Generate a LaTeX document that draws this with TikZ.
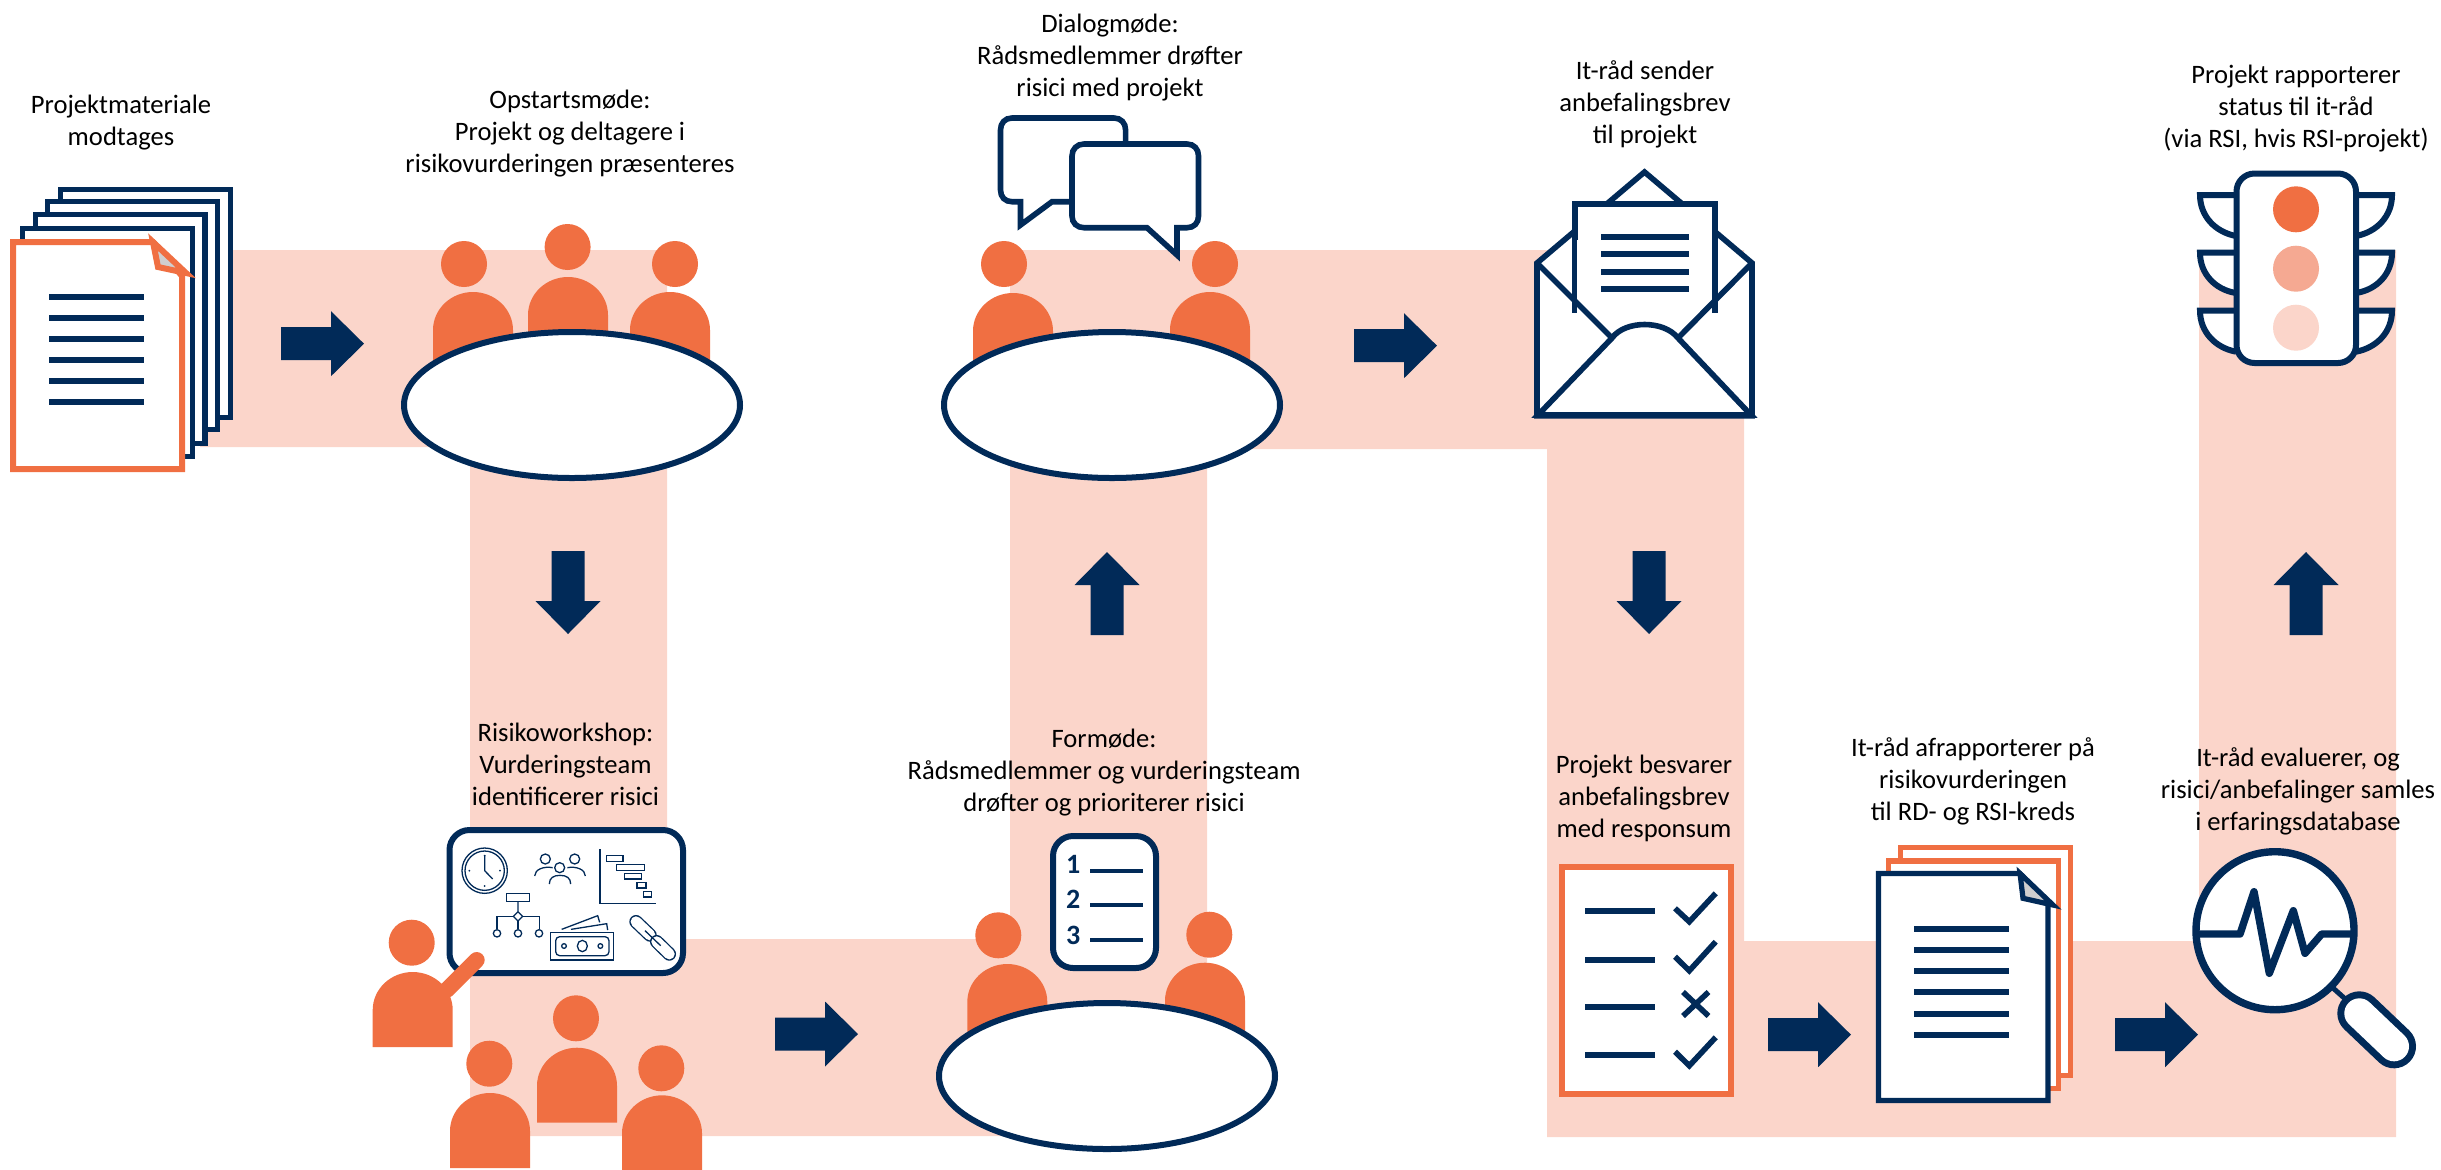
\documentclass[tikz,border=0pt]{standalone}
\usepackage{fontspec}
\setmainfont{Carlito}
\definecolor{navy}{HTML}{012A58}
\definecolor{orng}{HTML}{F06F42}
\definecolor{band}{HTML}{FBD5CA}
\definecolor{midor}{HTML}{F5A992}
\definecolor{foldg}{HTML}{D0CECE}
\tikzset{
  lbl/.style={align=center,font=\fontsize{13.3}{16}\selectfont,text=black,inner sep=0pt},
  sheet/.style={draw=#1,fill=white,line width=2.6pt},
  thin icon/.style={draw=navy,line width=0.65pt},
}
\newcommand{\pbody}[2]{\fill[orng] (#1-40,#2+75) -- (#1-40,#2+38) .. controls (#1-40,#2+17) and (#1-22,#2) .. (#1,#2) .. controls (#1+22,#2) and (#1+40,#2+17) .. (#1+40,#2+38) -- (#1+40,#2+75) -- cycle;}
\newcommand{\phead}[2]{\fill[orng] (#1,#2) circle[radius=23];}
\newcommand{\Rarr}[2]{\fill[navy] (#1,#2-16.5) -- (#1+50,#2-16.5) -- (#1+50,#2-32.5) -- (#1+83,#2) -- (#1+50,#2+32.5) -- (#1+50,#2+16.5) -- (#1,#2+16.5) -- cycle;}
\newcommand{\Darr}[2]{\fill[navy] (#1-16.5,#2) -- (#1-16.5,#2+50) -- (#1-32.5,#2+50) -- (#1,#2+83) -- (#1+32.5,#2+50) -- (#1+16.5,#2+50) -- (#1+16.5,#2) -- cycle;}
\newcommand{\Uarr}[2]{\fill[navy] (#1-16.5,#2) -- (#1-16.5,#2-50) -- (#1-32.5,#2-50) -- (#1,#2-83) -- (#1+32.5,#2-50) -- (#1+16.5,#2-50) -- (#1+16.5,#2) -- cycle;}
\newcommand{\sheetbox}[5]{\filldraw[sheet=#5] (#1+2.6,#2+2.6) rectangle (#3-2.6,#4-2.6);}
\newcommand{\barline}[3]{\fill[navy] (#1,#3-3) rectangle (#2,#3+3);}
\begin{document}
\begin{tikzpicture}[x=0.5pt,y=-0.5pt]
\useasboundingbox (0,0) rectangle (2441,1169);
% band
\fill[band] (200,250) -- (667,250) -- (667,939) -- (1010,939) -- (1010,250) -- (1744,250) -- (1744,941) -- (2199,941) -- (2199,250) -- (2396,250) -- (2396,1137) -- (1547,1137) -- (1547,449) -- (1207,449) -- (1207,1136) -- (470,1136) -- (470,447) -- (200,447) -- cycle;
% document stack 1
\sheetbox{58}{187}{233}{420}{navy}
\sheetbox{45}{199}{220}{432}{navy}
\sheetbox{32.5}{212}{207.5}{446}{navy}
\sheetbox{20}{226}{195}{459}{navy}
\filldraw[draw=orng,fill=white,line width=3pt,line join=miter] (13,242) -- (153,242) -- (182,276) -- (182,469) -- (13,469) -- cycle;
\filldraw[draw=orng,fill=foldg,line width=3pt,line join=miter] (153,242) -- (186,273) -- (158,267) -- cycle;
\foreach \yy in {296.7,317.7,339,360,381,402} {\barline{48.5}{144}{\yy}}
\Rarr{281}{343.7}
% opstart
\phead{464}{264}\phead{567.6}{247}\phead{675}{264}
\pbody{473}{292}\pbody{568}{277}\pbody{670}{292}
\filldraw[draw=navy,fill=white,line width=3pt] (572,405) ellipse[x radius=168,y radius=73];
\Darr{568}{551}
% presenter
\filldraw[draw=navy,fill=white,line width=3pt,rounded corners=10pt] (449.5,830) rectangle (683,973);
\begin{scope}[shift={(340,800)},x=0.16667pt,y=-0.16667pt]
 % clock
 \draw[thin icon] (434,212) circle[radius=68];
 \draw[thin icon] (434,212) circle[radius=59];
 \draw[thin icon] (434,165) -- (434,212) -- (458,237);
 \foreach \pp in {(434,167),(434,258),(388,212),(480,212)} {\fill[navy] \pp circle[radius=3];}
 % people
 \draw[thin icon] (616,177) circle[radius=15];
 \draw[thin icon] (704,177) circle[radius=15];
 \draw[thin icon] (659,203) circle[radius=15];
 \draw[thin icon] (584,228) .. controls (584,208) and (612,198) .. (638,203);
 \draw[thin icon] (736,228) .. controls (736,208) and (708,198) .. (682,203);
 \draw[thin icon] (628,252) .. controls (628,234) and (640,226) .. (660,226) .. controls (680,226) and (692,234) .. (692,252);
 % gantt
 \draw[thin icon] (780,148) -- (780,310) -- (947,310);
 \draw[thin icon] (799,167) rectangle (849,184);
 \draw[thin icon] (829,194) rectangle (913,211);
 \draw[thin icon] (854,220) rectangle (905,237);
 \draw[thin icon] (891,247) rectangle (918,264);
 \draw[thin icon] (911,274) rectangle (935,291);
 % org chart
 \draw[thin icon] (499,280) rectangle (569,305);
 \draw[thin icon] (534,305) -- (534,335) -- (548,349) -- (534,363) -- (520,349) -- (534,335);
 \draw[thin icon] (520,349) -- (471,349) -- (471,388);
 \draw[thin icon] (548,349) -- (598,349) -- (598,388);
 \draw[thin icon] (534,363) -- (534,388);
 \draw[thin icon] (471,400) circle[radius=11];
 \draw[thin icon] (534,400) circle[radius=11];
 \draw[thin icon] (597,400) circle[radius=11];
 % money
 \draw[thin icon] (632,398) rectangle (821,480);
 \draw[thin icon,rounded corners=2pt] (647,410) rectangle (807,467);
 \draw[thin icon] (727,438) ellipse[x radius=15,y radius=17];
 \draw[thin icon] (672,438) circle[radius=7];
 \draw[thin icon] (781,438) circle[radius=7];
 \draw[thin icon] (665,388) -- (773,347) -- (779,367);
 \draw[thin icon] (693,388) -- (800,371) -- (803,390);
 % link
 \draw[navy,line width=6.7pt,line cap=round] (888,365) -- (930,405);
 \draw[white,line width=5.4pt,line cap=round] (888,365) -- (930,405);
 \draw[navy,line width=6.7pt,line cap=round] (950,425) -- (988,462);
 \draw[white,line width=5.4pt,line cap=round] (950,425) -- (988,462);
 \draw[thin icon] (915,392) -- (962,437);
\end{scope}
\phead{411.7}{942.7}
\pbody{412.7}{972}
\draw[orng,line width=8pt,line cap=round] (446.7,990) -- (476.7,960);
\phead{489.3}{1063.7}\pbody{490}{1093}
\phead{576}{1018.3}\pbody{577}{1047.7}
\phead{661.3}{1068.3}\pbody{662}{1095.3}
\Rarr{775}{1034}
% formode
\phead{998.3}{935.3}\phead{1209.3}{934.7}
\pbody{1007.3}{964}\pbody{1205}{962.7}
\filldraw[draw=navy,fill=white,line width=3pt,rounded corners=10pt] (1053,836) rectangle (1156,968);
\node[text=navy,font=\fontsize{14}{16}\selectfont\bfseries,inner sep=0pt] (n1) at (1073.3,864) {1};
\node[text=navy,font=\fontsize{14}{16}\selectfont\bfseries,inner sep=0pt] (n2) at (1073.3,899) {2};
\node[text=navy,font=\fontsize{14}{16}\selectfont\bfseries,inner sep=0pt] (n3) at (1073.3,935) {3};
\fill[navy] (1090,868.7) rectangle (1143,872.7);
\fill[navy] (1090,902.7) rectangle (1143,906.7);
\fill[navy] (1090,937.7) rectangle (1143,941.7);
\filldraw[draw=navy,fill=white,line width=3pt] (1107,1076) ellipse[x radius=168,y radius=73];
\Uarr{1107}{635}
% dialog
\phead{1004}{264}\phead{1215}{264}
\pbody{1013}{293}\pbody{1210}{292}
\filldraw[draw=navy,fill=white,line width=3pt] (1112,405) ellipse[x radius=168,y radius=73];
\filldraw[draw=navy,fill=white,line width=2.8pt,line join=miter] (1020.5,225) -- (1020.5,201.7) -- (1012,201.7) .. controls (1005,201.7) and (1000.5,197) .. (1000.5,190) -- (1000.5,130) .. controls (1000.5,123) and (1005,118) .. (1012,118) -- (1114,118) .. controls (1121,118) and (1125.6,123) .. (1125.6,130) -- (1125.6,145) -- (1072,201.7) -- (1052,201.7) -- cycle;
\filldraw[draw=navy,fill=white,line width=2.8pt,line join=miter] (1084,144) -- (1187,144) .. controls (1194,144) and (1198.5,149) .. (1198.5,156) -- (1198.5,216) .. controls (1198.5,223) and (1194,227.7) .. (1187,227.7) -- (1177,227.7) -- (1177,255) -- (1147,227.7) -- (1084,227.7) .. controls (1077,227.7) and (1072,223) .. (1072,216) -- (1072,156) .. controls (1072,149) and (1077,144) .. (1084,144) -- cycle;
\Rarr{1354}{345.7}
% envelope
\filldraw[draw=navy,fill=white,line width=2.8pt,line join=miter] (1537,263) -- (1644.5,172) -- (1752,263) -- (1752,415.7) -- (1537,415.7) -- cycle;
\filldraw[draw=navy,fill=white,line width=3pt] (1574.5,204) rectangle (1715,310);
\fill[white] (1577,240) rectangle (1712,335);
\draw[navy,line width=2.8pt] (1574.5,204) -- (1574.5,300) (1715,204) -- (1715,300);
\draw[navy,line width=2.8pt,line join=miter] (1537,263) -- (1612,338);
\draw[navy,line width=2.8pt,line join=miter] (1752,263) -- (1678,338);
\filldraw[draw=navy,fill=white,line width=2.8pt,line join=miter] (1538,415) -- (1612,338) .. controls (1625,320) and (1664,320) .. (1678,338) -- (1751,415) -- cycle;
\foreach \yy in {237,254,272,289} {\barline{1601}{1689}{\yy}}
\Darr{1649}{551}
% checklist
\filldraw[draw=orng,fill=white,line width=3pt] (1561.5,867) rectangle (1730.5,1094);
\foreach \yy in {911.3,960,1007.3,1055} {\barline{1585}{1655}{\yy}}
\begin{scope}[navy,line width=2.8pt,line join=miter]
 \draw (1675,908.3) -- (1689.3,921.7) -- (1715.7,893.3);
 \draw (1675,956.7) -- (1689.3,970.7) -- (1715.7,941.7);
 \draw (1675,1051.7) -- (1689.3,1065.7) -- (1715.7,1037.3);
 \draw (1683,992) -- (1708.5,1016);
 \draw (1708.5,992) -- (1683,1016);
\end{scope}
\Rarr{1768}{1034.7}
% report stack
\sheetbox{1897.9}{845}{2072.9}{1077.7}{orng}
\sheetbox{1885.7}{858.3}{2060.7}{1091}{orng}
\filldraw[draw=navy,fill=white,line width=2.6pt,line join=miter] (1878.5,873.5) -- (2020,873.5) -- (2048,903) -- (2048,1100.5) -- (1878.5,1100.5) -- cycle;
\filldraw[draw=navy,fill=foldg,line width=2.6pt,line join=miter] (2020,873.5) -- (2053,905) -- (2023,898.3) -- cycle;
\foreach \yy in {929,950.3,971.3,992.3,1013.7,1034.7} {\barline{1914.3}{2009.3}{\yy}}
\Rarr{2115}{1034.7}
% magnifier
\draw[navy,line width=2.5pt] (2333,988) -- (2352,1005);
\draw[navy,line width=22pt,line cap=round] (2359.3,1013.3) -- (2394,1046.3);
\draw[white,line width=15pt,line cap=round] (2359.3,1013.3) -- (2394,1046.3);
\filldraw[draw=navy,fill=white,line width=3.7pt] (2275,930.7) circle[radius=79];
\draw[navy,line width=3.7pt,line join=round,line cap=butt] (2198.3,934) -- (2240,934) -- (2254,891.7) -- (2269.3,973.3) -- (2293.3,910.7) -- (2305,953.3) -- (2321.7,934) -- (2351.7,934);
\Uarr{2306}{635}
% traffic light
\begin{scope}[line width=3pt]
 \foreach \ya/\yb in {195/236,252.7/293,310.7/351.7} {
  \filldraw[draw=navy,fill=white] (2236,\ya) -- (2200,\ya) .. controls (2200,\ya+21) and (2215,\ya+37) .. (2236,\yb);
  \filldraw[draw=navy,fill=white] (2356,\ya) -- (2392,\ya) .. controls (2392,\ya+21) and (2377,\ya+37) .. (2356,\yb);
 }
 \filldraw[draw=navy,fill=white,rounded corners=9pt] (2236.5,173.5) rectangle (2356,363);
\end{scope}
\fill[orng] (2296,209.3) circle[radius=23];
\fill[midor] (2296,268.7) circle[radius=23];
\fill[band] (2296,327.7) circle[radius=23];
% labels
\node[lbl] (t1) at (121,123) {Projektmateriale\\modtages};
\node[lbl] (t2) at (570,134) {Opstartsmøde:\\Projekt og deltagere i\\risikovurderingen præsenteres};
\node[lbl] (t3) at (1110,57.5) {Dialogmøde:\\Rådsmedlemmer drøfter\\risici med projekt};
\node[lbl] (t4) at (1645,104.5) {It-råd sender\\anbefalingsbrev\\til projekt};
\node[lbl] (t5) at (2296,109) {Projekt rapporterer\\status til it-råd\\(via RSI, hvis RSI-projekt)};
\node[lbl] (t6) at (565.5,764) {Risikoworkshop:\\Vurderingsteam\\identificerer risici};
\node[lbl] (t7) at (1104,773) {Formøde:\\Rådsmedlemmer og vurderingsteam\\drøfter og prioriterer risici};
\node[lbl] (t8) at (1644,798) {Projekt besvarer\\anbefalingsbrev\\med responsum};
\node[lbl] (t9) at (1973,781) {It-råd afrapporterer på\\risikovurderingen\\til RD- og RSI-kreds};
\node[lbl] (t10) at (2298,791) {It-råd evaluerer, og\\risici/anbefalinger samles\\i erfaringsdatabase};
\end{tikzpicture}
\end{document}
